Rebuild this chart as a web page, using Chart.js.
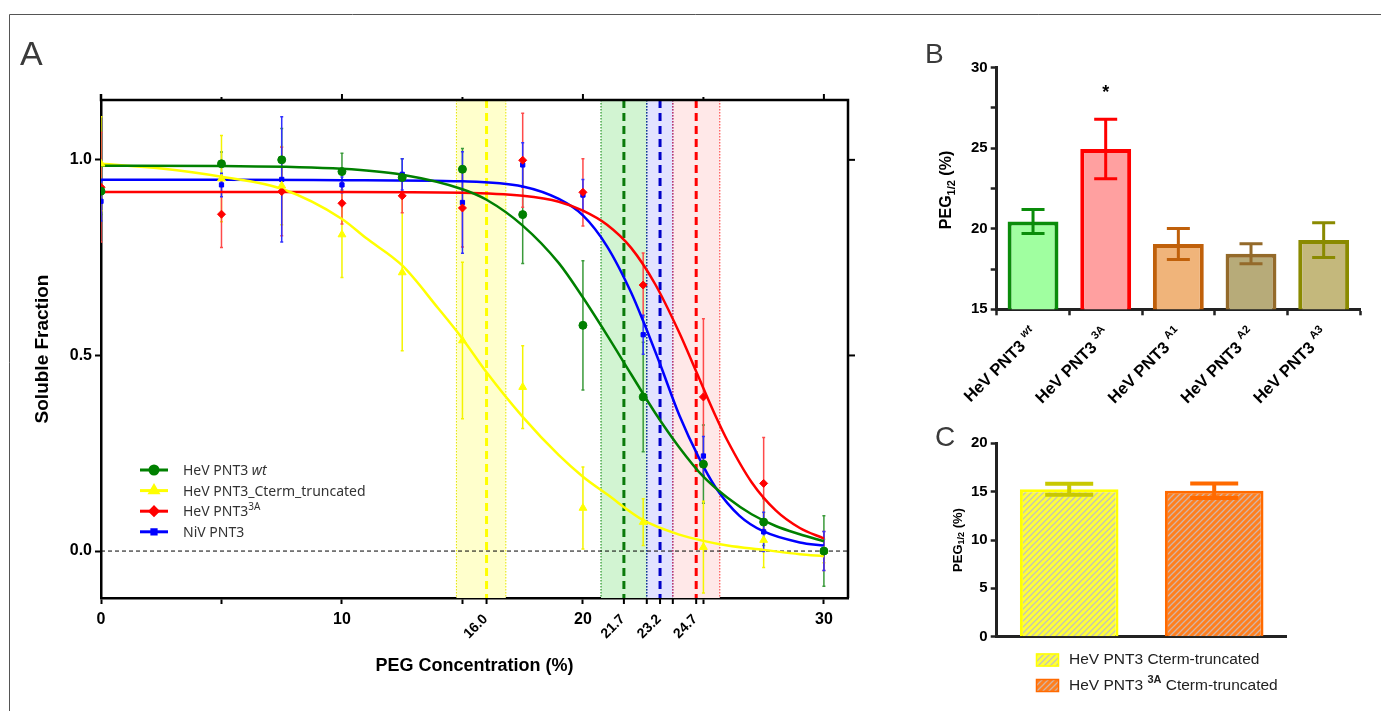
<!DOCTYPE html>
<html>
<head>
<meta charset="utf-8">
<script src="https://cdn.jsdelivr.net/npm/chart.js@4.4.0/dist/chart.umd.min.js"></script>
<style>
  html, body { margin: 0; padding: 0; background: #fff; }
  body { width: 1381px; height: 711px; position: relative; overflow: hidden; }
  canvas { position: absolute; left: 0; top: 0; }
</style>
</head>
<body>
<canvas id="chartA" width="1381" height="711"></canvas>
<canvas id="chartB" width="1381" height="711"></canvas>
<canvas id="chartC" width="1381" height="711"></canvas>
<script>
// ---------- panel A: soluble fraction vs PEG ----------
const conc = [0, 5, 7.5, 10, 12.5, 15, 17.5, 20, 22.5, 25, 27.5, 30]

const wtMean = [0.92, 0.99, 1.0, 0.97, 0.955, 0.976, 0.86, 0.577, 0.394, 0.222, 0.074, 0.0]
const wtErr = [0.06, 0.03, 0.08, 0.047, 0.048, 0.053, 0.125, 0.165, 0.14, 0.1, 0.06, 0.09]
const truncMean = [0.99, 0.952, 0.934, 0.809, 0.712, 0.538, 0.419, 0.11, 0.074, 0.01, 0.028, 0.0]
const truncErr = [0.12, 0.11, 0.1, 0.11, 0.2, 0.2, 0.106, 0.105, 0.06, 0.117, 0.07, 0.03]
const mut3aMean = [0.93, 0.861, 0.919, 0.889, 0.908, 0.877, 0.999, 0.917, 0.68, 0.394, 0.173, 0.0]
const mut3aErr = [0.14, 0.085, 0.113, 0.053, 0.043, 0.1, 0.12, 0.086, 0.082, 0.2, 0.117, 0.05]
const nivMean = [0.894, 0.936, 0.95, 0.936, 0.963, 0.891, 0.987, 0.91, 0.553, 0.243, 0.049, 0.0]
const nivErr = [0.05, 0.03, 0.16, 0.02, 0.04, 0.13, 0.057, 0.04, 0.05, 0.05, 0.05, 0.05]

// fitted curves
const fitWtX = [0, 5, 10, 12.5, 15, 16, 17.5, 19, 20, 21, 22, 23, 24, 25, 26, 27, 28, 29, 30]
const fitWtY = [0.985, 0.984, 0.977, 0.962, 0.925, 0.898, 0.832, 0.736, 0.648, 0.552, 0.452, 0.353, 0.265, 0.19, 0.136, 0.094, 0.064, 0.043, 0.025]
const fitTruncX = [0, 2.5, 5, 7.5, 10, 11, 12.5, 14, 15, 16, 17.5, 19, 20, 21, 22.5, 24, 25, 26, 27.5, 29, 30]
const fitTruncY = [0.99, 0.978, 0.957, 0.926, 0.849, 0.8, 0.73, 0.62, 0.543, 0.457, 0.343, 0.245, 0.19, 0.145, 0.079, 0.042, 0.026, 0.014, 0.003, -0.008, -0.013]
const fit3aX = [0, 5, 10, 15, 17.5, 19, 20, 21, 22, 23, 24, 24.7, 25.5, 26, 27, 28, 29, 30]
const fit3aY = [0.918, 0.918, 0.918, 0.916, 0.908, 0.893, 0.87, 0.834, 0.775, 0.682, 0.558, 0.459, 0.346, 0.282, 0.176, 0.104, 0.059, 0.032]
const fitNivX = [0, 5, 10, 15, 17.5, 19, 20, 21, 22, 22.5, 23.2, 24, 24.8, 25.5, 26.5, 27.5, 29, 30]
const fitNivY = [0.949, 0.949, 0.948, 0.945, 0.932, 0.9, 0.858, 0.779, 0.661, 0.588, 0.478, 0.347, 0.24, 0.163, 0.09, 0.05, 0.022, 0.014]

// PEG1/2 of each construct and its interval (order: trunc, wt, NiV, 3A)
const halfPeg = [16.0, 21.7, 23.2, 24.7]
const bandLow = [14.75, 20.75, 22.65, 23.73]
const bandHigh = [16.8, 22.65, 23.73, 25.68]

const xTickValues = [0, 5, 10, 15, 20, 25, 30]
const xLabelValues = [0, 10, 20, 30]
const yTickValues = [0, 0.5, 1]

// ---------- panel B ----------
const bGroups = ['wt', '3A', 'A1', 'A2', 'A3']
const bMeans = [20.45, 24.95, 19.05, 18.45, 19.3]
const bErr = [0.75, 1.85, 0.96, 0.62, 1.08]
const bTicks = [15, 17.5, 20, 22.5, 25, 27.5, 30]

// ---------- panel C ----------
const cNames = ['HeV PNT3 Cterm-truncated', 'HeV PNT3 3A Cterm-truncated']
const cMeans = [15.25, 15.1]
const cErr = [0.57, 0.75]
const cTicks = [0, 5, 10, 15, 20]

const FAMILY = "'Liberation Sans', Arial, sans-serif"
Chart.defaults.font.family = FAMILY
Chart.defaults.color = '#000'
Chart.defaults.plugins.legend.display = false
Chart.defaults.plugins.tooltip.enabled = false

const seriesColors = ['#008000', '#ffff00', '#ff0000', '#0000ff']
const errColors = ['#3a9a3a', '#f4f400', '#ff4a4a', '#3030ff']
const pointStyles = ['circle', 'triangle', 'rectRot', 'rect']
const pointSizes = [4, 4.5, 4, 3]
const bandFill = ['#ffffcc', '#d2f4d2', '#e2e2ff', '#ffe8e8']
const bandEdge = ['#e6e600', '#008000', '#0000cc', '#ff3030']
const halfLine = ['#ffff00', '#0a7a0a', '#0000c8', '#ff0000']

const pts = (xs, ys) => xs.map((x, i) => ({ x, y: ys[i] }))

// text made of parts: [text, flags]; i italic, s superscript, u subscript, b bold
function drawRich(ctx, parts, x, y, size, weight, family, align) {
  const fontFor = f => `${f.includes('i') ? 'italic ' : ''}${f.includes('b') ? 'bold' : weight} ${(f.includes('s') || f.includes('u')) ? Math.round(size * 0.68) : size}px ${family}`
  const widths = parts.map(p => { ctx.font = fontFor(p[1]); return ctx.measureText(p[0]).width })
  const total = widths.reduce((s, w) => s + w, 0)
  let cx = align === 'right' ? x - total : align === 'center' ? x - total / 2 : x
  ctx.textAlign = 'left'
  ctx.textBaseline = 'middle'
  parts.forEach((p, i) => {
    ctx.font = fontFor(p[1])
    const dy = p[1].includes('s') ? -size * 0.38 : p[1].includes('u') ? size * 0.3 : 0
    ctx.fillText(p[0], cx, y + dy)
    cx += widths[i]
  })
}

const legendA = [
  [['HeV PNT3 ', ''], ['wt', 'i']],
  [['HeV PNT3_Cterm_truncated', '']],
  [['HeV PNT3', ''], ['3A', 's']],
  [['NiV PNT3', '']]
]

const panelA = {
  id: 'panelA',
  beforeDatasetsDraw(chart) {
    const { ctx, chartArea: a, scales: { x, y } } = chart
    ctx.save()
    ctx.beginPath()
    ctx.rect(a.left, a.top, a.right - a.left, a.bottom - a.top)
    ctx.clip()
    halfPeg.forEach((v, k) => {
      const l = x.getPixelForValue(bandLow[k]), r = x.getPixelForValue(bandHigh[k])
      ctx.fillStyle = bandFill[k]
      ctx.fillRect(l, a.top, r - l, a.bottom - a.top)
    })
    ctx.lineWidth = 1
    ctx.setLineDash([1.5, 1.5])
    halfPeg.forEach((v, k) => {
      ctx.strokeStyle = bandEdge[k]
      ;[bandLow[k], bandHigh[k]].forEach(b => {
        const px = x.getPixelForValue(b)
        ctx.beginPath(); ctx.moveTo(px, a.top); ctx.lineTo(px, a.bottom); ctx.stroke()
      })
    })
    ctx.lineWidth = 3
    ctx.setLineDash([8, 5])
    halfPeg.forEach((v, k) => {
      const px = x.getPixelForValue(v)
      ctx.strokeStyle = halfLine[k]
      ctx.beginPath(); ctx.moveTo(px, a.top); ctx.lineTo(px, a.bottom); ctx.stroke()
    })
    // zero line
    ctx.lineWidth = 1
    ctx.setLineDash([4, 3])
    ctx.strokeStyle = '#000'
    const y0 = y.getPixelForValue(0)
    ctx.beginPath(); ctx.moveTo(a.left, y0); ctx.lineTo(a.right, y0); ctx.stroke()
    ctx.setLineDash([])
    // error bars
    chart.data.datasets.forEach(ds => {
      if (!ds.errors) return
      ctx.strokeStyle = ds.errColor
      ctx.lineWidth = 1.5
      ds.data.forEach((p, i) => {
        const px = x.getPixelForValue(p.x)
        const t = y.getPixelForValue(p.y + ds.errors[i]), b = y.getPixelForValue(p.y - ds.errors[i])
        ctx.beginPath()
        ctx.moveTo(px, t); ctx.lineTo(px, b)
        ctx.moveTo(px - 1.5, t); ctx.lineTo(px + 1.5, t)
        ctx.moveTo(px - 1.5, b); ctx.lineTo(px + 1.5, b)
        ctx.stroke()
      })
    })
    ctx.restore()
  },
  afterDraw(chart) {
    const { ctx, chartArea: a, scales: { x, y } } = chart
    ctx.save()
    // frame: top and right sides plus mirrored ticks
    ctx.strokeStyle = '#000'
    ctx.lineWidth = 2.5
    ctx.beginPath()
    ctx.moveTo(a.left, a.top - 6); ctx.lineTo(a.left, a.top)
    ctx.lineTo(a.right, a.top); ctx.lineTo(a.right, a.bottom)
    ctx.stroke()
    ctx.lineWidth = 2
    xTickValues.forEach(v => {
      const px = x.getPixelForValue(v)
      const len = v % 10 === 0 ? 6 : 3
      ctx.beginPath(); ctx.moveTo(px, a.top); ctx.lineTo(px, a.top - len); ctx.stroke()
    })
    ;[0.5, 1].forEach(v => {
      const py = y.getPixelForValue(v)
      ctx.beginPath(); ctx.moveTo(a.right, py); ctx.lineTo(a.right + 7, py); ctx.stroke()
    })
    // extra ticks and slanted labels for the PEG1/2 values
    const extra = [...halfPeg, bandLow[2], bandLow[3]]
    extra.forEach(v => {
      const px = x.getPixelForValue(v)
      ctx.beginPath(); ctx.moveTo(px, a.bottom); ctx.lineTo(px, a.bottom + 6); ctx.stroke()
    })
    ctx.fillStyle = '#000'
    ctx.font = `bold 14px ${FAMILY}`
    ctx.textAlign = 'right'
    ctx.textBaseline = 'middle'
    halfPeg.forEach(v => {
      const px = x.getPixelForValue(v)
      ctx.save()
      ctx.translate(px - 1, a.bottom + 19)
      ctx.rotate(-Math.PI / 4)
      ctx.fillText(v.toFixed(1), 0, 0)
      ctx.restore()
    })
    // legend
    legendA.forEach((parts, k) => {
      const ly = 470 + k * 20.6
      ctx.strokeStyle = seriesColors[k]
      ctx.lineWidth = 3
      ctx.beginPath(); ctx.moveTo(140, ly); ctx.lineTo(168, ly); ctx.stroke()
      ctx.fillStyle = seriesColors[k]
      Chart.helpers.drawPoint(ctx, { pointStyle: pointStyles[k], radius: pointSizes[k], borderWidth: 1 }, 154, ly)
      ctx.fillStyle = '#333'
      drawRich(ctx, parts, 183, ly + 1, 14, 'normal', "'Noto Sans', sans-serif", 'left')
    })
    // panel letters and figure border
    ctx.fillStyle = '#3a3a3a'
    ctx.textAlign = 'left'
    ctx.textBaseline = 'alphabetic'
    ctx.font = `34px ${FAMILY}`
    ctx.fillText('A', 20, 65)
    ctx.font = `28px ${FAMILY}`
    ctx.fillText('B', 925, 63)
    ctx.fillText('C', 935, 446)
    ctx.strokeStyle = '#555'
    ctx.lineWidth = 1
    ctx.beginPath(); ctx.moveTo(9.5, 711); ctx.lineTo(9.5, 14.5); ctx.lineTo(1381, 14.5); ctx.stroke()
    ctx.restore()
  }
}

const seriesMeans = [wtMean, truncMean, mut3aMean, nivMean]
const seriesErrs = [wtErr, truncErr, mut3aErr, nivErr]
const fits = [[fitWtX, fitWtY], [fitTruncX, fitTruncY], [fit3aX, fit3aY], [fitNivX, fitNivY]]

new Chart(document.getElementById('chartA'), {
  type: 'scatter',
  data: {
    datasets: [
      ...seriesMeans.map((m, k) => ({
        data: pts(conc, m),
        errors: seriesErrs[k],
        errColor: errColors[k],
        showLine: false,
        pointStyle: pointStyles[k],
        pointRadius: pointSizes[k],
        backgroundColor: seriesColors[k],
        borderColor: seriesColors[k],
        borderWidth: 1,
        order: 0
      })),
      ...fits.map((f, k) => ({
        data: pts(f[0], f[1]),
        showLine: true,
        borderColor: seriesColors[k],
        borderWidth: 2.5,
        pointRadius: 0,
        cubicInterpolationMode: 'monotone',
        order: k === 0 ? 1 : 2
      }))
    ]
  },
  options: {
    responsive: false,
    animation: false,
    devicePixelRatio: 1,
    layout: { padding: { top: 100, right: 1381 - 848, left: 0, bottom: 0 } },
    scales: {
      x: {
        type: 'linear',
        min: 0,
        max: 31,
        afterFit: s => { s.height = 711 - 598 },
        afterBuildTicks: s => { s.ticks = xTickValues.map(v => ({ value: v })) },
        ticks: {
          autoSkip: false,
          maxRotation: 0,
          padding: 6,
          font: { weight: 'bold', size: 16 },
          callback: v => (xLabelValues.includes(v) ? String(v) : '')
        },
        grid: { drawOnChartArea: false, tickLength: 6, tickWidth: 2, tickColor: '#000' },
        border: { color: '#000', width: 2.5 },
        title: {
          display: true,
          text: 'PEG Concentration (%)',
          font: { weight: 'bold', size: 18 },
          padding: { top: 0, bottom: 34.5 }
        }
      },
      y: {
        min: -0.12,
        max: 1.153,
        afterFit: s => { s.width = 101 },
        afterBuildTicks: s => { s.ticks = yTickValues.map(v => ({ value: v })) },
        ticks: { padding: 3, font: { weight: 'bold', size: 16 }, callback: v => v.toFixed(1) },
        grid: { drawOnChartArea: false, tickLength: 6, tickWidth: 2, tickColor: '#000' },
        border: { color: '#000', width: 2.5 },
        title: {
          display: true,
          text: 'Soluble Fraction',
          font: { weight: 'bold', size: 19 },
          padding: { top: 31, bottom: 0 }
        }
      }
    }
  },
  plugins: [panelA]
})

// ---------- error bars for the bar panels ----------
const barErrors = {
  id: 'barErrors',
  afterDatasetsDraw(chart, args, opts) {
    const { ctx, scales: { y } } = chart
    const ds = chart.data.datasets[0]
    const meta = chart.getDatasetMeta(0)
    ctx.save()
    ctx.lineWidth = opts.width
    meta.data.forEach((bar, i) => {
      const t = y.getPixelForValue(ds.data[i] + ds.errors[i])
      const b = y.getPixelForValue(ds.data[i] - ds.errors[i])
      ctx.strokeStyle = ds.errColors[i]
      ctx.beginPath()
      ctx.moveTo(bar.x, t); ctx.lineTo(bar.x, b)
      ctx.moveTo(bar.x - opts.cap, t); ctx.lineTo(bar.x + opts.cap, t)
      ctx.moveTo(bar.x - opts.cap, b); ctx.lineTo(bar.x + opts.cap, b)
      ctx.stroke()
    })
    ctx.restore()
  }
}

// ---------- panel B ----------
const bFill = ['#a0ffa0', '#ffa0a0', '#f0b47a', '#b7ab79', '#c4b87c']
const bBorder = ['#0a8c0a', '#ff0000', '#c0600a', '#946a2a', '#8a8a00']

const panelB = {
  id: 'panelB',
  afterDraw(chart) {
    const { ctx, scales: { x, y } } = chart
    ctx.save()
    ctx.fillStyle = '#000'
    bGroups.forEach((g, i) => {
      const px = x.getPixelForValue(i)
      ctx.save()
      ctx.translate(px + 2, 332)
      ctx.rotate(-Math.PI / 4)
      drawRich(ctx, [['HeV PNT3 ', ''], [g, g === 'wt' ? 'si' : 'sb']], 0, 0, 16.5, 'bold', FAMILY, 'right')
      ctx.restore()
    })
    // y title with subscript
    ctx.save()
    ctx.translate(947, 190)
    ctx.rotate(-Math.PI / 2)
    drawRich(ctx, [['PEG', ''], ['1/2', 'u'], [' (%)', '']], 0, 0, 16, 'bold', FAMILY, 'center')
    ctx.restore()
    // significance star
    ctx.font = `bold 18px ${FAMILY}`
    ctx.textAlign = 'center'
    ctx.textBaseline = 'middle'
    ctx.fillText('*', x.getPixelForValue(1), y.getPixelForValue(28.45))
    ctx.restore()
  }
}

new Chart(document.getElementById('chartB'), {
  type: 'bar',
  data: {
    labels: bGroups.map(g => 'HeV PNT3 ' + g),
    datasets: [{
      data: bMeans,
      errors: bErr,
      errColors: bBorder,
      backgroundColor: bFill,
      borderColor: bBorder,
      borderWidth: 4,
      barPercentage: 0.7,
      categoryPercentage: 1
    }]
  },
  options: {
    responsive: false,
    animation: false,
    devicePixelRatio: 1,
    layout: { padding: { top: 67.7, right: 1381 - 1360, left: 0, bottom: 0 } },
    scales: {
      x: {
        afterFit: s => { s.height = 711 - 309.3 },
        ticks: { callback: () => '' },
        grid: { drawOnChartArea: false, tickLength: 6, tickWidth: 2.5, tickColor: '#222' },
        border: { color: '#222', width: 3 }
      },
      y: {
        min: 15,
        max: 30,
        afterFit: s => { s.width = 996.7 },
        afterBuildTicks: s => { s.ticks = bTicks.map(v => ({ value: v })) },
        ticks: { padding: 3, font: { weight: 'bold', size: 15 }, callback: v => (v % 5 === 0 ? String(v) : '') },
        grid: { drawOnChartArea: false, tickLength: 6, tickWidth: 2.5, tickColor: '#222' },
        border: { color: '#222', width: 3 }
      }
    },
    plugins: { barErrors: { width: 3, cap: 11.5 } }
  },
  plugins: [barErrors, panelB]
})

// ---------- panel C ----------
const ctxC = document.getElementById('chartC').getContext('2d')
function hatch(base, line) {
  const c = document.createElement('canvas')
  c.width = 6; c.height = 6
  const g = c.getContext('2d')
  g.fillStyle = base
  g.fillRect(0, 0, 6, 6)
  g.strokeStyle = line
  g.lineWidth = 1.3
  g.beginPath()
  g.moveTo(0, 6); g.lineTo(6, 0)
  g.moveTo(-3, 3); g.lineTo(3, -3)
  g.moveTo(3, 9); g.lineTo(9, 3)
  g.stroke()
  return ctxC.createPattern(c, 'repeat')
}
const cFill = [hatch('#ffff3a', '#c4c4b4'), hatch('#ff7f1e', '#d4b4a4')]
const cBorder = ['#ffff00', '#ff6a00']
const cErrColors = ['#c8c800', '#ff6a00']

const panelC = {
  id: 'panelC',
  afterDraw(chart) {
    const { ctx } = chart
    ctx.save()
    ctx.fillStyle = '#000'
    ctx.save()
    ctx.translate(958, 540)
    ctx.rotate(-Math.PI / 2)
    drawRich(ctx, [['PEG', ''], ['1/2', 'u'], [' (%)', '']], 0, 0, 13, 'bold', FAMILY, 'center')
    ctx.restore()
    // legend
    const rows = [
      [[cNames[0], '']],
      [['HeV PNT3 ', ''], ['3A', 'sb'], [' Cterm-truncated', '']]
    ]
    rows.forEach((parts, k) => {
      const ly = 660 + k * 25.5
      ctx.fillStyle = cFill[k]
      ctx.fillRect(1036, ly - 6.5, 23, 13)
      ctx.strokeStyle = cBorder[k]
      ctx.lineWidth = 1.5
      ctx.strokeRect(1036.5, ly - 6, 22, 12)
      ctx.fillStyle = '#222'
      drawRich(ctx, parts, 1069, ly, 15.5, 'normal', FAMILY, 'left')
    })
    ctx.restore()
  }
}

new Chart(ctxC, {
  type: 'bar',
  data: {
    labels: cNames,
    datasets: [{
      data: cMeans,
      errors: cErr,
      errColors: cErrColors,
      backgroundColor: cFill,
      borderColor: cBorder,
      borderWidth: 3,
      barPercentage: 0.68,
      categoryPercentage: 1
    }]
  },
  options: {
    responsive: false,
    animation: false,
    devicePixelRatio: 1,
    layout: { padding: { top: 443.3, right: 1381 - 1286.7, left: 0, bottom: 0 } },
    scales: {
      x: {
        afterFit: s => { s.height = 711 - 636.7 },
        ticks: { display: false },
        grid: { display: false },
        border: { color: '#222', width: 3 }
      },
      y: {
        min: 0,
        max: 20,
        afterFit: s => { s.width = 996.7 },
        afterBuildTicks: s => { s.ticks = cTicks.map(v => ({ value: v })) },
        ticks: { padding: 3, font: { weight: 'bold', size: 15 } },
        grid: { drawOnChartArea: false, tickLength: 6, tickWidth: 2.5, tickColor: '#222' },
        border: { color: '#222', width: 3 }
      }
    },
    plugins: { barErrors: { width: 4, cap: 24 } }
  },
  plugins: [barErrors, panelC]
})
</script>
</body>
</html>
